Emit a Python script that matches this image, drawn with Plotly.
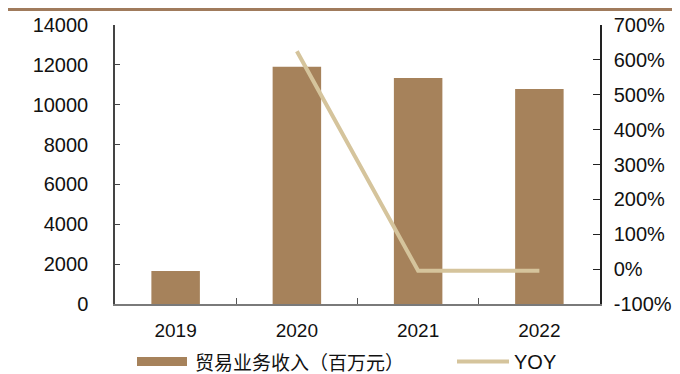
import plotly.graph_objects as go

years = ["2019", "2020", "2021", "2022"]
revenue = [1658, 11910, 11342, 10789]
yoy = [None, 6.25, -0.048, -0.049]

left_ticks = [0, 2000, 4000, 6000, 8000, 10000, 12000, 14000]
left_labels = ["0", "2000", "4000", "6000", "8000", "10000", "12000", "14000"]
right_ticks = [-1, 0, 1, 2, 3, 4, 5, 6, 7]
right_labels = ["-100%", "0%", "100%", "200%", "300%", "400%", "500%", "600%", "700%"]

bar_color = "#A6825B"
line_color = "#D5C49C"
font = "Liberation Sans, Arial, sans-serif"

# page offset (default body margin of the html page)
OFF = 8
L, T = 115 - OFF, 25 - OFF
R = 680 - (600 - OFF)
B = 374 - (304 - OFF)
PW = 680 - L - R
PH = 374 - T - B

def px2x(px):
    return (px - OFF - L) / PW

def py2y(py):
    return (304 - py) / PH

fig = go.Figure()
fig.add_trace(go.Bar(x=years, y=revenue, marker=dict(color=bar_color, line=dict(width=0)),
                     width=0.4, name="贸易业务收入（百万元）", showlegend=False))
fig.add_trace(go.Scatter(x=years, y=yoy, mode="lines", line=dict(color=line_color, width=4),
                         yaxis="y2", name="YOY", showlegend=False))

fig.update_layout(
    width=680, height=374,
    margin=dict(l=L, r=R, t=T, b=B, autoexpand=False),
    paper_bgcolor="white", plot_bgcolor="white",
    font=dict(family=font, size=19, color="#111"),
    xaxis=dict(type="category", showline=True, linecolor="#7a7a7a", linewidth=1.5,
               ticks="inside", tickson="boundaries", ticklen=6, tickcolor="#555",
               showgrid=False, tickfont=dict(size=19), range=[-0.5, 3.5],
               ticklabelstandoff=8, automargin=False),
    yaxis=dict(range=[0, 14000], tickvals=left_ticks, ticktext=left_labels, showline=True,
               linecolor="#444", linewidth=1.5, ticks="inside", ticklen=5, tickcolor="#444",
               showgrid=False, zeroline=False, tickfont=dict(size=20), ticklabelstandoff=21,
               automargin=False),
    yaxis2=dict(range=[-1, 7], tickvals=right_ticks, ticktext=right_labels, overlaying="y",
                side="right", showline=True, linecolor="#222", linewidth=1.5, ticks="inside",
                ticklen=7, tickcolor="#222", showgrid=False, zeroline=False,
                tickfont=dict(size=20), ticklabelstandoff=8, automargin=False),
    showlegend=False,
)

# top decorative rule
fig.add_shape(type="line", xref="paper", yref="paper", x0=px2x(0), x1=px2x(700),
              y0=py2y(9.5), y1=py2y(9.5), line=dict(color="#A07B5C", width=3))

# custom legend
fig.add_shape(type="rect", xref="paper", yref="paper", x0=px2x(137), x1=px2x(187),
              y0=py2y(366), y1=py2y(357), fillcolor=bar_color, line=dict(width=0))
fig.add_annotation(xref="paper", yref="paper", x=px2x(193), y=py2y(361.5), xanchor="left",
                   yanchor="middle", showarrow=False, text="贸易业务收入（百万元）",
                   font=dict(family="Noto Sans CJK SC", size=19, color="#111"))
fig.add_shape(type="line", xref="paper", yref="paper", x0=px2x(457), x1=px2x(509),
              y0=py2y(361.5), y1=py2y(361.5), line=dict(color=line_color, width=4))
fig.add_annotation(xref="paper", yref="paper", x=px2x(512), y=py2y(361.5), xanchor="left",
                   yanchor="middle", showarrow=False, text="YOY",
                   font=dict(family=font, size=20, color="#111"))

fig.write_html("out.html")
